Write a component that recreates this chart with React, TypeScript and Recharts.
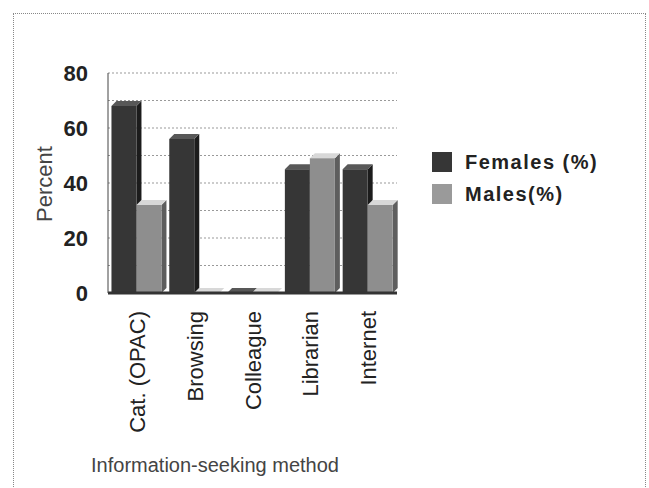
import { BarChart, Bar, XAxis, YAxis, CartesianGrid, Legend, ReferenceLine } from 'recharts';

const methods = ['Cat. (OPAC)', 'Browsing', 'Colleague', 'Librarian', 'Internet'];
const females = [68, 56, 0, 45, 45];
const males = [32, 0, 0, 49, 32];
const yTicks = [0, 20, 40, 60, 80];
const gridLines = [0, 10, 20, 30, 40, 50, 60, 70, 80];

const data = methods.map((method, i) => ({ method, females: females[i], males: males[i] }));

const FONT = '"Liberation Sans", Arial, sans-serif';
const DEPTH = 5;

// column with a lit top and a shaded right side
const makeColumn = (front: string, top: string, side: string) => (props: any) => {
  const { x, y, width, height } = props;
  if (x == null || y == null) return null;
  const h = Math.max(0, height || 0);
  const w = width;
  return (
    <g>
      <polygon
        points={`${x + w},${y} ${x + w + DEPTH},${y - DEPTH} ${x + w + DEPTH},${y + h - DEPTH} ${x + w},${y + h}`}
        fill={side}
      />
      <polygon
        points={`${x},${y} ${x + DEPTH},${y - DEPTH} ${x + w + DEPTH},${y - DEPTH} ${x + w},${y}`}
        fill={top}
      />
      {h > 0 && <rect x={x} y={y} width={w} height={h} fill={front} />}
    </g>
  );
};

const FemaleColumn = makeColumn('#363636', '#585858', '#1c1c1c');
const MaleColumn = makeColumn('#8e8e8e', '#d8d8d8', '#5e5e5e');

const MethodTick = (props: any) => {
  const { x, y, payload } = props;
  return (
    <text
      x={0}
      y={0}
      transform={`translate(${x + 8},${y + 10}) rotate(-90)`}
      textAnchor="end"
      fontSize={22}
      fontFamily={FONT}
      fill="#222"
    >
      {payload.value}
    </text>
  );
};

const LegendBox = () => (
  <div style={{ fontFamily: FONT, fontSize: 20, fontWeight: 'bold', color: '#222', letterSpacing: 1.5 }}>
    {[
      { name: 'Females (%)', color: '#363636' },
      { name: 'Males(%)', color: '#9a9a9a' },
    ].map((item) => (
      <div key={item.name} style={{ display: 'flex', alignItems: 'center', height: 32 }}>
        <span style={{ width: 20, height: 20, background: item.color, marginRight: 13 }} />
        <span>{item.name}</span>
      </div>
    ))}
  </div>
);

export default function App() {
  return (
    <div style={{ position: 'absolute', left: 0, top: 0, width: 649, height: 488, background: '#fff', overflow: 'hidden' }}>
      <div
        style={{
          position: 'absolute',
          left: 13,
          top: 13,
          width: 633,
          height: 490,
          border: '1px dotted #888',
          boxSizing: 'border-box',
        }}
      />
      <BarChart
        width={649}
        height={488}
        data={data}
        margin={{ top: 73, right: 252, left: 68, bottom: 45 }}
        barCategoryGap="6%"
        barGap={0}
      >
        <CartesianGrid vertical={false} stroke="#999" strokeDasharray="2 2" horizontalValues={gridLines} />
        <XAxis
          dataKey="method"
          height={150}
          axisLine={false}
          tickLine={false}
          interval={0}
          tick={<MethodTick />}
        />
        <YAxis
          width={40}
          domain={[0, 80]}
          ticks={yTicks}
          axisLine={{ stroke: '#444' }}
          tickLine={false}
          tick={{ fontSize: 22, fontFamily: FONT, fill: '#222', fontWeight: 'bold' }}
          tickMargin={14}
        />
        <ReferenceLine y={0} stroke="#333" strokeWidth={3} />
        <Legend
          layout="vertical"
          align="center"
          verticalAlign="middle"
          content={<LegendBox />}
          wrapperStyle={{ left: 432, top: 146, width: 210 }}
        />
        <Bar dataKey="females" name="Females (%)" shape={FemaleColumn} isAnimationActive={false} />
        <Bar dataKey="males" name="Males(%)" shape={MaleColumn} isAnimationActive={false} />
      </BarChart>
      <div
        style={{
          position: 'absolute',
          left: 45,
          top: 184,
          transform: 'translate(-50%, -50%) rotate(-90deg)',
          fontFamily: FONT,
          fontSize: 22,
          color: '#444',
          whiteSpace: 'nowrap',
        }}
      >
        Percent
      </div>
      <div
        style={{
          position: 'absolute',
          left: 215,
          top: 465,
          transform: 'translate(-50%, -50%)',
          fontFamily: FONT,
          fontSize: 20,
          color: '#444',
          whiteSpace: 'nowrap',
        }}
      >
        Information-seeking method
      </div>
    </div>
  );
}
